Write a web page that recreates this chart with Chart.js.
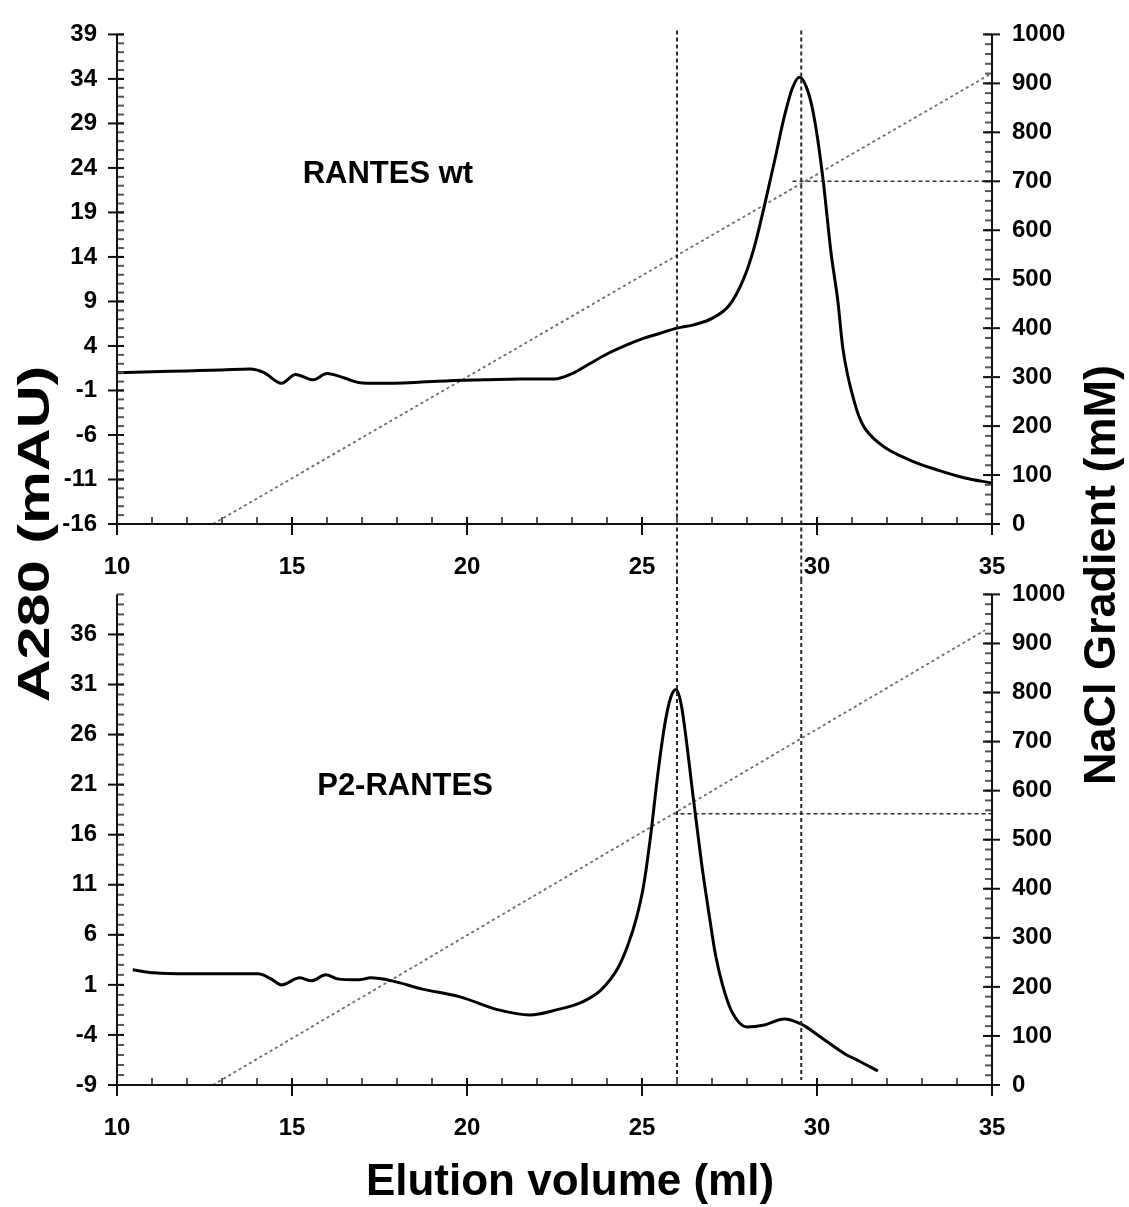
<!DOCTYPE html>
<html>
<head>
<meta charset="utf-8">
<script src="https://cdn.jsdelivr.net/npm/chart.js@4.4.1/dist/chart.umd.min.js"></script>
<style>
  body { margin: 0; background: #fff; }
  #page { position: relative; width: 1129px; height: 1207px; overflow: hidden;
          font-family: "Liberation Sans", Arial, sans-serif; }
  canvas { position: absolute; left: 0; }
  #topChart { top: 0; }
  #botChart { top: 560px; }
  .title { position: absolute; font-weight: bold; color: #000; white-space: nowrap; text-align: center; }
  #xTitle { left: 0; width: 1140px; top: 1156px; font-size: 44px; line-height: 48px; }
  #yTitle { left: -166px; top: 509px; width: 400px; font-size: 45px; line-height: 50px;
            transform: rotate(-90deg) scaleX(1.32); }
  #y2Title { left: 850px; top: 550px; width: 500px; font-size: 45px; line-height: 50px;
             transform: rotate(-90deg); }
</style>
</head>
<body>
<div id="page">
  <canvas id="topChart" width="1129" height="600"></canvas>
  <canvas id="botChart" width="1129" height="647"></canvas>
  <div class="title" id="xTitle">Elution volume (ml)</div>
  <div class="title" id="yTitle">A280 (mAU)</div>
  <div class="title" id="y2Title">NaCl Gradient (mM)</div>
</div>
<script>
// ---- data ----
const X_TICKS = [10, 15, 20, 25, 30, 35];
const NACL_TICKS = [0, 100, 200, 300, 400, 500, 600, 700, 800, 900, 1000];
const TOP_Y_TICKS = [-16, -11, -6, -1, 4, 9, 14, 19, 24, 29, 34, 39];
const BOT_Y_TICKS = [-9, -4, 1, 6, 11, 16, 21, 26, 31, 36];

// RANTES wt trace (elution ml, A280 mAU)
const WT_X = [10, 11, 12, 13, 13.8, 14.2, 14.7, 15.1, 15.6, 16.0, 16.5, 16.9, 17.5, 18.5, 19.5, 20.5,
              21.5, 22.5, 23.0, 23.5, 24.0, 24.5, 25.0, 25.5, 26.0, 26.5, 27.0, 27.5, 27.9, 28.2, 28.5,
              28.8, 29.05, 29.3, 29.5, 29.75, 29.94, 30.17, 30.4, 30.6, 30.74, 31.09, 31.3, 31.8, 32.7, 33.5, 34.2, 35];
const WT_Y = [1.0, 1.1, 1.2, 1.3, 1.4, 1.0, -0.2, 0.8, 0.2, 0.9, 0.4, -0.1, -0.2, -0.1, 0.1, 0.2,
              0.3, 0.3, 0.9, 2.0, 3.1, 4.0, 4.8, 5.4, 6.0, 6.4, 7.1, 8.6, 11.5, 15.0, 19.8,
              25.0, 29.5, 33.0, 34.2, 32.5, 29.2, 22.8, 14.5, 8.9, 3.7, -2.6, -4.8, -7.0, -8.9, -10.0, -10.8, -11.4];

// P2-RANTES trace
const P2_X = [10.45, 11.06, 12, 13, 14.03, 14.4, 14.7, 15.22, 15.55, 15.97, 16.3, 16.9, 17.25, 17.86, 18.7,
              19.8, 20.9, 21.8, 22.55, 23.3, 23.83, 24.3, 24.6, 24.85, 25.05, 25.25, 25.45, 25.65, 25.82,
              25.97, 26.12, 26.3, 26.46, 26.7, 26.94, 27.1, 27.3, 27.57, 28.0, 28.5, 29.06, 29.54, 30.1,
              30.8, 31.2, 31.74];
const P2_Y = [2.5, 2.2, 2.1, 2.1, 2.1, 1.6, 1.0, 1.7, 1.4, 2.0, 1.6, 1.5, 1.7, 1.4, 0.6,
              -0.2, -1.5, -2.0, -1.5, -0.7, 0.5, 2.6, 5.0, 7.8, 11.0, 16.0, 22.0, 27.0, 29.7,
              30.5, 29.0, 24.5, 19.8, 13.2, 7.5, 4.0, 1.0, -1.7, -3.2, -3.0, -2.4, -2.9, -4.2,
              -5.9, -6.6, -7.6];

// NaCl gradient lines (ml, mM) and elution-concentration guides
const WT_GRAD_X = [12.74, 35];
const WT_GRAD_Y = [0, 921];
const WT_LEVEL_X = [29.3, 35];
const WT_LEVEL_Y = [700, 700];
const P2_GRAD_X = [12.74, 34.8];
const P2_GRAD_Y = [0, 927];
const P2_LEVEL_X = [25.9, 35];
const P2_LEVEL_Y = [553, 553];

// peak positions marked by vertical dashed lines (ml)
const PEAK_MARKS = [26.0, 29.55];

const pts = (xs, ys) => xs.map((x, i) => ({ x: x, y: ys[i] }));

Chart.defaults.font.family = '"Liberation Sans", Arial, sans-serif';
Chart.defaults.color = '#000';

// axis lines, major/minor tick marks, peak guides and panel label
const axisDecor = {
  id: 'axisDecor',
  afterDatasetsDraw(chart, args, opts) {
    const ctx = chart.ctx;
    const a = chart.chartArea;
    const xs = chart.scales.x, yl = chart.scales.y, yr = chart.scales.y2;
    const seg = (x1, y1, x2, y2) => { ctx.beginPath(); ctx.moveTo(x1, y1); ctx.lineTo(x2, y2); ctx.stroke(); };
    ctx.save();

    // vertical peak guides
    ctx.strokeStyle = '#2a2a2a';
    ctx.lineWidth = 2;
    ctx.setLineDash([4, 3]);
    PEAK_MARKS.forEach(v => {
      const p = xs.getPixelForValue(v);
      seg(p, opts.guideFrom(a, chart), p, opts.guideTo(a, chart));
    });
    ctx.setLineDash([]);

    // minor ticks (inside)
    ctx.strokeStyle = '#555';
    ctx.lineWidth = 2;
    for (let v = xs.min; v <= xs.max + 1e-9; v += 1) {
      const p = xs.getPixelForValue(v);
      seg(p, a.bottom - 7, p, a.bottom);
    }
    for (let v = yl.min; v <= yl.max + 1e-9; v += 1) {
      const p = yl.getPixelForValue(v);
      seg(a.left, p, a.left + 7, p);
    }
    for (let v = yr.min; v <= yr.max + 1e-9; v += 20) {
      const p = yr.getPixelForValue(v);
      seg(a.right - 7, p, a.right, p);
    }

    // axis lines and major ticks
    ctx.strokeStyle = '#111';
    seg(a.left, a.top, a.left, a.bottom + 11);
    seg(a.right, a.top, a.right, a.bottom + 11);
    seg(a.left, a.bottom, a.right, a.bottom);
    xs.ticks.forEach(t => { const p = xs.getPixelForValue(t.value); seg(p, a.bottom - 7, p, a.bottom + 11); });
    yl.ticks.forEach(t => { const p = yl.getPixelForValue(t.value); seg(a.left - 9, p, a.left + 7, p); });
    yr.ticks.forEach(t => { const p = yr.getPixelForValue(t.value); seg(a.right - 9, p, a.right + 8, p); });

    // panel label
    ctx.fillStyle = '#000';
    ctx.font = 'bold 31px "Liberation Sans", Arial, sans-serif';
    ctx.textAlign = 'center';
    ctx.textBaseline = 'middle';
    ctx.fillText(opts.label, xs.getPixelForValue(opts.labelX), yl.getPixelForValue(opts.labelY));
    ctx.restore();
  }
};

function buildChart(id, p) {
  const tickFont = { size: 24, weight: 'bold' };
  const fixedTicks = list => scale => { scale.ticks = list.map(v => ({ value: v })); };
  return new Chart(document.getElementById(id), {
    type: 'line',
    data: {
      datasets: [
        { data: p.trace, borderColor: '#000', borderWidth: 3, cubicInterpolationMode: 'monotone',
          pointRadius: 0, yAxisID: 'y' },
        { data: p.gradient, borderColor: '#6e6e6e', borderWidth: 1.8, borderDash: [3, 3],
          pointRadius: 0, yAxisID: 'y2' },
        { data: p.level, borderColor: '#333', borderWidth: 1.6, borderDash: [4, 3],
          pointRadius: 0, yAxisID: 'y2' }
      ]
    },
    options: {
      responsive: false,
      animation: false,
      devicePixelRatio: 1,
      layout: { padding: { top: 29, left: 0, right: 0, bottom: 0 } },
      plugins: {
        legend: { display: false },
        tooltip: { enabled: false },
        axisDecor: p.decor
      },
      scales: {
        x: {
          type: 'linear', min: 10, max: 35,
          afterBuildTicks: fixedTicks(X_TICKS),
          afterFit: s => { s.height = p.xHeight; },
          grid: { display: false, drawTicks: false },
          border: { display: false },
          ticks: { padding: 29, font: tickFont, maxRotation: 0, autoSkip: false, callback: v => String(v) }
        },
        y: {
          type: 'linear', position: 'left', min: p.yMin, max: p.yMax,
          afterBuildTicks: fixedTicks(p.yTicks),
          afterFit: s => { s.width = 117; },
          grid: { display: false, drawTicks: false },
          border: { display: false },
          ticks: { padding: 20, font: tickFont, autoSkip: false, callback: v => String(v) }
        },
        y2: {
          type: 'linear', position: 'right', min: 0, max: 1000,
          afterBuildTicks: fixedTicks(NACL_TICKS),
          afterFit: s => { s.width = 137; },
          grid: { display: false, drawTicks: false },
          border: { display: false },
          ticks: { padding: 20, font: tickFont, autoSkip: false, callback: v => String(v) }
        }
      }
    },
    plugins: [axisDecor]
  });
}

buildChart('topChart', {
  trace: pts(WT_X, WT_Y),
  gradient: pts(WT_GRAD_X, WT_GRAD_Y),
  level: pts(WT_LEVEL_X, WT_LEVEL_Y),
  yMin: -16, yMax: 39, yTicks: TOP_Y_TICKS,
  xHeight: 76,
  decor: {
    label: 'RANTES wt', labelX: 17.74, labelY: 23.3,
    guideFrom: a => a.top - 4,
    guideTo: (a, chart) => chart.height - 20
  }
});

buildChart('botChart', {
  trace: pts(P2_X, P2_Y),
  gradient: pts(P2_GRAD_X, P2_GRAD_Y),
  level: pts(P2_LEVEL_X, P2_LEVEL_Y),
  yMin: -9, yMax: 40, yTicks: BOT_Y_TICKS,
  xHeight: 122,
  decor: {
    label: 'P2-RANTES', labelX: 18.23, labelY: 20.8,
    guideFrom: () => 20,
    guideTo: a => a.bottom - 5
  }
});
</script>
</body>
</html>
